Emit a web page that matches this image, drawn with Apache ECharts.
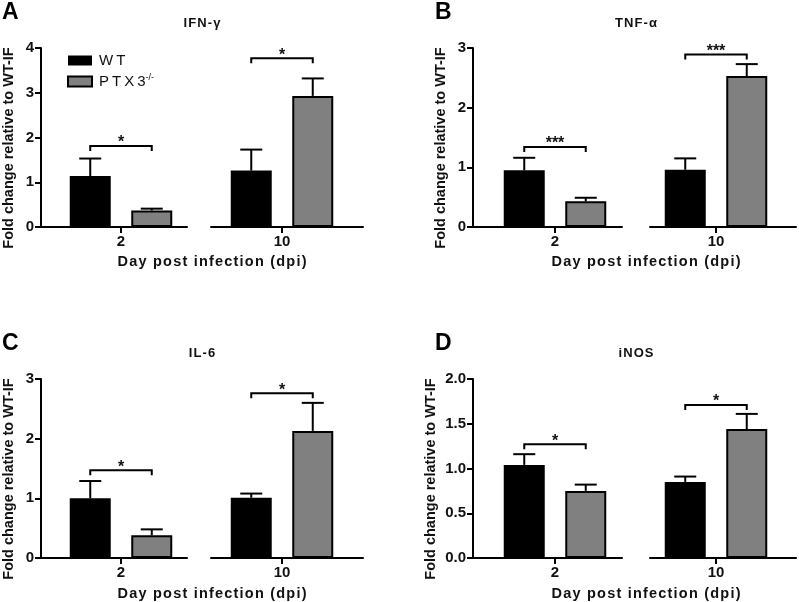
<!DOCTYPE html>
<html>
<head>
<meta charset="utf-8">
<script src="https://cdn.jsdelivr.net/npm/echarts@6/dist/echarts.min.js"></script>
<style>
  html, body { margin: 0; padding: 0; background: #fff; }
  #chart { width: 799px; height: 602px; }
</style>
</head>
<body>
<div id="chart"></div>
<script>
// values, one entry per panel, [2 dpi, 10 dpi]
const doses = ['2', '10'];
const panelLetters = ['A', 'B', 'C', 'D'];
const panelTitles = ['IFN-γ', 'TNF-α', 'IL-6', 'iNOS'];
const wtMean = [[1.14, 1.26], [0.95, 0.96], [1.00, 1.01], [1.04, 0.85]];
const wtSem = [[0.39, 0.47], [0.21, 0.19], [0.29, 0.07], [0.12, 0.06]];
const ptxMean = [[0.37, 2.93], [0.43, 2.53], [0.38, 2.13], [0.75, 1.44]];
const ptxSem = [[0.04, 0.39], [0.06, 0.20], [0.10, 0.47], [0.07, 0.17]];
const bracketY = [[1.81, 3.77], [1.34, 2.89], [1.47, 2.76], [1.27, 1.71]];
const stars = [['*', '*'], ['***', '***'], ['*', '*'], ['*', '*']];
const yMax = [4, 3, 3, 2];
const yStep = [1, 1, 1, 0.5];

const FONT = '"Liberation Sans", Arial, sans-serif';
const BAR_W = 41;
const OFF = (BAR_W + BAR_W * 0.5) / 2;
const CAP = 11;

// layout (px)
const cols = [
  { seg: [[41, 187], [211, 363]], center: [121, 282], titleX: 202, nameX: 212, letterX: 2, yNameX: 9 },
  { seg: [[473, 622], [650, 796]], center: [555, 716], titleX: 636, nameX: 646, letterX: 435, yNameX: 441 }
];
const rows = [
  { top: 48, bottom: 227, titleY: 23, letterY: 13, nameY: 262 },
  { top: 379, bottom: 558, titleY: 353, letterY: 344, nameY: 594 }
];

const spaced = (s, sp) => s.split('').join(sp || '\u200A');

const grids = [], xAxes = [], yAxes = [], series = [], graphics = [];

function makeRender(p, k) {
  return function (params, api) {
    const c = api.coord([0, 0]);
    const xw = c[0] - OFF, xp = c[0] + OFF;
    const yw0 = api.coord([0, wtMean[p][k]])[1];
    const yw1 = api.coord([0, wtMean[p][k] + wtSem[p][k]])[1];
    const yp0 = api.coord([0, ptxMean[p][k]])[1];
    const yp1 = api.coord([0, ptxMean[p][k] + ptxSem[p][k]])[1];
    const yb = api.coord([0, bracketY[p][k]])[1];
    const ls = { stroke: '#000', lineWidth: 2, fill: null };
    return {
      type: 'group',
      children: [
        { type: 'line', shape: { x1: xw, y1: yw0, x2: xw, y2: yw1 }, style: ls },
        { type: 'line', shape: { x1: xw - CAP, y1: yw1, x2: xw + CAP, y2: yw1 }, style: ls },
        { type: 'line', shape: { x1: xp, y1: yp0, x2: xp, y2: yp1 }, style: ls },
        { type: 'line', shape: { x1: xp - CAP, y1: yp1, x2: xp + CAP, y2: yp1 }, style: ls },
        { type: 'polyline', shape: { points: [[xw, yb + 5], [xw, yb], [xp, yb], [xp, yb + 5]] }, style: ls },
        { type: 'text', x: (xw + xp) / 2, y: yb - 3,
          style: { text: stars[p][k], fontSize: 16, fontWeight: 'bold', fontFamily: FONT, fill: '#111', align: 'center', verticalAlign: 'middle' } }
      ]
    };
  };
}

for (let p = 0; p < 4; p++) {
  const col = cols[p % 2], row = rows[Math.floor(p / 2)];
  const g = p * 4;
  const h = row.bottom - row.top;

  // frame grids: the two broken x-axis pieces, the left one carries the y axis
  for (let s = 0; s < 2; s++) {
    grids.push({ left: col.seg[s][0], top: row.top, width: col.seg[s][1] - col.seg[s][0], height: h });
    xAxes.push({
      gridIndex: g + s, type: 'value', min: 0, max: 1,
      axisLine: { show: true, onZero: false, lineStyle: { color: '#000', width: 2 } },
      axisTick: { show: false }, axisLabel: { show: false }, splitLine: { show: false }
    });
    yAxes.push(s === 0 ? {
      gridIndex: g, type: 'value', min: 0, max: yMax[p], interval: yStep[p],
      axisLine: { show: true, lineStyle: { color: '#000', width: 2 } },
      axisTick: { show: true, length: 6, lineStyle: { color: '#000', width: 2 } },
      axisLabel: {
        fontFamily: FONT, fontWeight: 'bold', fontSize: 15, color: '#111', margin: 7,
        formatter: v => yStep[p] < 1 ? v.toFixed(1) : String(v)
      },
      splitLine: { show: false }
    } : { gridIndex: g + 1, type: 'value', min: 0, max: yMax[p], show: false });
  }

  // bar grids, one per time point
  for (let k = 0; k < 2; k++) {
    const gi = g + 2 + k;
    grids.push({ left: col.center[k] - 55, top: row.top, width: 110, height: h });
    xAxes.push({
      gridIndex: gi, type: 'category', data: [doses[k]],
      axisLine: { show: false },
      axisTick: { show: true, alignWithLabel: true, length: 6, lineStyle: { color: '#000', width: 2 } },
      axisLabel: { fontFamily: FONT, fontWeight: 'bold', fontSize: 15, color: '#111', margin: 7 }
    });
    yAxes.push({ gridIndex: gi, type: 'value', min: 0, max: yMax[p], show: false });

    series.push({
      name: 'WT', type: 'bar', xAxisIndex: gi, yAxisIndex: gi,
      data: [wtMean[p][k]], barWidth: BAR_W, barGap: '50%',
      itemStyle: { color: '#000' }, silent: true
    });
    series.push({
      name: 'PTX3-/-', type: 'bar', xAxisIndex: gi, yAxisIndex: gi,
      data: [ptxMean[p][k]], barWidth: BAR_W, barGap: '50%',
      itemStyle: { color: '#808080', borderColor: '#000', borderWidth: 2 }, silent: true
    });
    series.push({
      type: 'custom', xAxisIndex: gi, yAxisIndex: gi, z: 5, silent: true,
      data: [[0, wtMean[p][k], ptxMean[p][k]]],
      renderItem: makeRender(p, k)
    });
  }

  graphics.push(
    { type: 'text', x: col.letterX, y: row.letterY,
      style: { text: panelLetters[p], fontFamily: FONT, fontWeight: 'bold', fontSize: 23, fill: '#000', align: 'left', verticalAlign: 'middle' } },
    { type: 'text', x: col.titleX, y: row.titleY,
      style: { text: spaced(panelTitles[p]), fontFamily: FONT, fontWeight: 'bold', fontSize: 13, fill: '#111', align: 'center', verticalAlign: 'middle' } },
    { type: 'text', x: col.nameX, y: row.nameY,
      style: { text: spaced('Day post infection (dpi)'), fontFamily: FONT, fontWeight: 'bold', fontSize: 14.5, fill: '#111', align: 'center', verticalAlign: 'middle' } },
    { type: 'text', x: p === 3 ? 431 : col.yNameX, y: row.top + 100, rotation: Math.PI / 2,
      style: { text: 'Fold change relative to WT-IF', fontFamily: FONT, fontWeight: 'bold', fontSize: 14.5, fill: '#111', align: 'center', verticalAlign: 'middle' } }
  );
}

const chart = echarts.init(document.getElementById('chart'));
chart.setOption({
  backgroundColor: '#fff',
  animation: false,
  grid: grids,
  xAxis: xAxes,
  yAxis: yAxes,
  series: series,
  graphic: graphics,
  legend: {
    data: ['WT', 'PTX3-/-'], orient: 'vertical', left: 62, top: 47,
    itemWidth: 24, itemHeight: 10, itemGap: 4, icon: 'rect', selectedMode: false,
    formatter: n => n === 'WT' ? spaced('WT', '\u2009') : spaced('PTX3', '\u2009') + '{sup|-/-}',
    textStyle: {
      fontFamily: FONT, fontSize: 15, color: '#111', lineHeight: 17, padding: [0, 0, 0, 2],
      rich: { sup: { fontFamily: FONT, fontSize: 9, lineHeight: 17, verticalAlign: 'top', color: '#111' } }
    }
  }
});
</script>
</body>
</html>
